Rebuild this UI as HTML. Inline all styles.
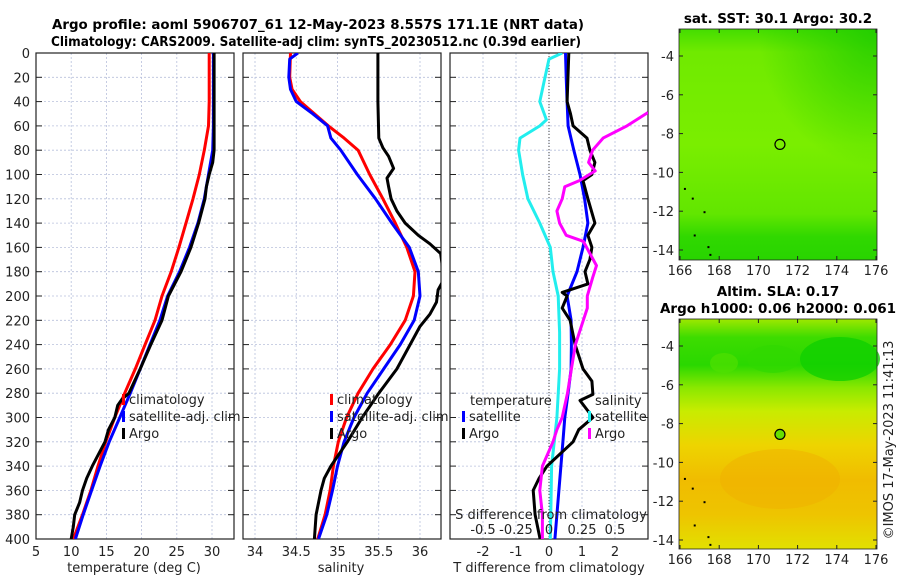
<!DOCTYPE html>
<html><head><meta charset="utf-8">
<style>
html,body{margin:0;padding:0;background:#fff;}
svg{display:block;font-family:"DejaVu Sans","Liberation Sans",sans-serif;}
</style></head>
<body>
<svg id="fig" width="900" height="580" viewBox="0 0 900 580" xmlns="http://www.w3.org/2000/svg">
<defs>
<linearGradient id="sla" x1="0" y1="0" x2="0" y2="1">
<stop offset="0" stop-color="#9ee800"/>
<stop offset="0.08" stop-color="#3ddc00"/>
<stop offset="0.2" stop-color="#2ad800"/>
<stop offset="0.3" stop-color="#8be800"/>
<stop offset="0.4" stop-color="#c8ec00"/>
<stop offset="0.55" stop-color="#eed400"/>
<stop offset="0.7" stop-color="#f0bc00"/>
<stop offset="0.85" stop-color="#eec400"/>
<stop offset="1" stop-color="#e2e000"/>
</linearGradient>
<linearGradient id="sst" x1="0" y1="0" x2="0" y2="1">
<stop offset="0" stop-color="#44dd00"/>
<stop offset="0.1" stop-color="#70ea00"/>
<stop offset="0.5" stop-color="#7aee00"/>
<stop offset="0.8" stop-color="#62e600"/>
<stop offset="0.9" stop-color="#30d800"/>
<stop offset="1" stop-color="#28d400"/>
</linearGradient>
<radialGradient id="trdark" cx="1" cy="0" r="0.6">
<stop offset="0" stop-color="#20cc00" stop-opacity="0.9"/>
<stop offset="1" stop-color="#20cc00" stop-opacity="0"/>
</radialGradient>
</defs>
<g id="root"></g>
</svg>
<script>
// ---------- data ----------
const depthTicks = [0,20,40,60,80,100,120,140,160,180,200,220,240,260,280,300,320,340,360,380,400];
const tempTicks = [5,10,15,20,25,30];
const salTicks = [34,34.5,35,35.5,36];
const tdiffTicks = [-2,-1,0,1,2];
const sdiffTicks = [-0.5,-0.25,0,0.25,0.5];
const lonTicks = [166,168,170,172,174,176];
const latTicks = [-4,-6,-8,-10,-12,-14];

const tClimDepth = [0,20,40,60,80,100,120,140,160,180,200,220,240,260,280,300,320,340,360,380,400];
const tClim      = [29.6,29.6,29.6,29.5,28.9,28.2,27.3,26.3,25.3,24.2,22.9,21.9,20.5,19.1,17.6,16.2,14.9,13.8,12.8,11.6,10.3];
const tSatDepth  = [0,20,40,60,80,100,120,140,160,180,200,220,240,260,280,300,320,340,360,380,400];
const tSat       = [30.2,30.2,30.2,30.2,30.1,29.5,28.9,28.0,26.8,25.4,23.7,22.6,21.2,19.8,18.4,16.9,15.4,14.1,12.9,11.7,10.6];
const tArgoDepth = [0,20,40,60,80,90,100,110,120,140,160,180,200,220,240,260,280,285,290,300,310,320,340,350,360,370,380,390,400];
const tArgo      = [30.3,30.3,30.3,30.3,30.3,30.1,29.6,29.2,29.0,28.1,27.0,25.6,23.8,22.9,21.3,19.8,18.2,17.2,16.6,16.2,15.3,14.8,13.0,12.2,11.6,11.2,10.5,10.3,10.0];

const sClimDepth = [0,20,30,40,50,60,70,80,100,120,140,160,180,200,220,240,260,280,300,320,340,360,380,400];
const sClim      = [34.43,34.42,34.45,34.55,34.72,34.89,35.08,35.25,35.39,35.55,35.70,35.84,35.94,35.92,35.82,35.64,35.43,35.25,35.11,35.01,34.95,34.91,34.85,34.76];
const sSatDepth  = [0,5,20,30,40,50,60,70,80,100,120,140,160,180,200,220,240,260,280,300,320,340,360,380,400];
const sSat       = [34.52,34.42,34.41,34.43,34.50,34.70,34.88,34.92,35.04,35.24,35.46,35.66,35.87,35.98,36.00,35.93,35.76,35.56,35.36,35.20,35.08,35.00,34.94,34.87,34.77];
const sArgoDepth = [0,40,70,78,85,95,103,110,120,130,140,150,157,165,175,185,195,205,215,225,240,260,280,300,320,330,340,350,360,380,400];
const sArgo      = [35.49,35.49,35.50,35.55,35.62,35.68,35.60,35.62,35.65,35.72,35.82,35.98,36.12,36.25,36.27,36.30,36.22,36.20,36.12,36.00,35.88,35.72,35.50,35.30,35.12,35.02,34.92,34.84,34.80,34.74,34.72];

const dTSatDepth = [0,20,40,60,80,100,120,140,160,180,200,220,240,260,280,300,320,340,360,380,400];
const dTSat      = [0.50,0.52,0.55,0.58,0.75,0.94,1.08,1.18,1.03,0.85,0.55,0.67,0.68,0.67,0.58,0.48,0.42,0.36,0.30,0.24,0.18];
const dSSatDepth = [0,5,20,40,55,60,70,80,100,120,140,160,180,200,230,260,300,340,370,400];
const dSSat      = [0.10,0.00,-0.03,-0.07,-0.02,-0.07,-0.22,-0.23,-0.20,-0.16,-0.07,0.01,0.03,0.07,0.08,0.08,0.06,0.02,0.015,0.01];
const dTArgoDepth= [0,40,50,60,70,80,90,100,105,120,140,150,160,170,180,190,197,200,210,220,240,260,270,281,286,300,310,320,340,350,360,380,400];
const dTArgo     = [0.60,0.55,0.65,0.73,1.15,1.24,1.39,1.30,1.03,1.18,1.39,1.18,1.30,1.24,1.09,1.18,0.40,0.55,0.40,0.64,0.79,1.03,1.30,1.33,0.94,1.33,0.90,0.73,-0.06,-0.30,-0.48,-0.42,-0.27];
const dSArgoDepth= [49,60,70,80,90,97,105,110,120,130,140,150,155,165,175,185,200,210,220,240,260,280,300,310,320,340,360,380,400];
const dSArgo     = [0.75,0.59,0.41,0.33,0.30,0.35,0.23,0.12,0.10,0.06,0.08,0.13,0.26,0.31,0.36,0.33,0.29,0.29,0.26,0.20,0.17,0.14,0.10,0.06,0.03,-0.05,-0.07,-0.05,-0.05];

// ---------- helpers ----------
const NS="http://www.w3.org/2000/svg";
const root=document.getElementById('root');
function mk(tag,attrs,parent,txt){const e=document.createElementNS(NS,tag);for(const k in attrs)e.setAttribute(k,attrs[k]);if(txt!==undefined)e.textContent=txt;(parent||root).appendChild(e);return e;}
const Y0=53,Y1=539;
function yD(d){return Y0+(d/400)*(Y1-Y0);}
function lin(d0,d1,p0,p1){return v=>p0+(v-d0)/(d1-d0)*(p1-p0);}
const xT=lin(5,30,36,212);
const xS=lin(34,36,255,420);
const xDT=lin(0,2,549,615);
const xDS=lin(0,0.5,549,615);

function panel(name,x0,x1,xTicks,xf,gridX){
  const g=mk('g',{},root);
  
  
  const cp=mk('clipPath',{id:'cp-'+name},g);
  mk('rect',{x:x0,y:Y0,width:x1-x0,height:Y1-Y0},cp);
  for(const d of depthTicks){
    if(d>0&&d<400) mk('line',{x1:x0,x2:x1,y1:yD(d),y2:yD(d),stroke:'#b8c0dc','stroke-width':0.8,'stroke-dasharray':'2,2'},g);
    mk('line',{x1:x0,x2:x0+6,y1:yD(d),y2:yD(d),stroke:'#222','stroke-width':1},g);
    mk('line',{x1:x1-6,x2:x1,y1:yD(d),y2:yD(d),stroke:'#222','stroke-width':1},g);
  }
  if(gridX) for(const t of xTicks){const x=xf(t); if(x>x0+1&&x<x1-1) mk('line',{x1:x,x2:x,y1:Y0,y2:Y1,stroke:'#b8c0dc','stroke-width':0.8,'stroke-dasharray':'2,2'},g);}
  mk('rect',{x:x0,y:Y0,width:x1-x0,height:Y1-Y0,fill:'none',stroke:'#222','stroke-width':1.2},g);
  return g;
}
function series(g,name,clip,depths,vals,xf,color,w){
  const pts=depths.map((d,i)=>xf(vals[i]).toFixed(1)+','+yD(d).toFixed(1)).join(' ');
  const p=mk('polyline',{points:pts,fill:'none',stroke:color,'stroke-width':w||3,'stroke-linejoin':'round','clip-path':'url(#cp-'+clip+')'},g);
  
  
}
function txt(s,x,y,opt,parent){const o=Object.assign({x:x,y:y,'font-size':13,fill:'#222'},opt||{});return mk('text',o,parent,s);}
function legend(g,x,y,items){
  items.forEach((it,i)=>{
    const yy=y+i*17;
    mk('rect',{x:x,y:yy-10,width:3,height:11,fill:it[1]},g);
    const t=txt(it[0],x+7,yy,{'font-size':13},g);
    
    
  });
}

// title
const tg=mk('g',{},root);


txt('Argo profile: aoml 5906707_61 12-May-2023 8.557S 171.1E (NRT data)',318,29,{'font-weight':'bold','text-anchor':'middle','font-size':13.5,fill:'#000',textLength:532,lengthAdjust:'spacingAndGlyphs'},tg);
txt('Climatology: CARS2009. Satellite-adj clim: synTS_20230512.nc (0.39d earlier)',316,46,{'font-weight':'bold','text-anchor':'middle','font-size':13.5,fill:'#000',textLength:530,lengthAdjust:'spacingAndGlyphs'},tg);

// depth labels
const yl=mk('g',{},root);


for(const d of depthTicks) txt(String(d),30,yD(d)+5,{'text-anchor':'end'},yl);

// panel 1
const p1=panel('temperature-panel',36,234,tempTicks,xT,true);
series(p1,'temp-climatology','temperature-panel',tClimDepth,tClim,xT,'#ff0000');
series(p1,'temp-satellite-adj','temperature-panel',tSatDepth,tSat,xT,'#0000ff');
series(p1,'temp-argo','temperature-panel',tArgoDepth,tArgo,xT,'#000000');
for(const t of tempTicks) txt(String(t),xT(t),556,{'text-anchor':'middle'},p1);
txt('temperature (deg C)',134,572,{'text-anchor':'middle'},p1);
legend(p1,122,404,[['climatology','#ff0000'],['satellite-adj. clim','#0000ff'],['Argo','#000']]);

// panel 2
const p2=panel('salinity-panel',243,441,salTicks,xS,true);
series(p2,'sal-climatology','salinity-panel',sClimDepth,sClim,xS,'#ff0000');
series(p2,'sal-satellite-adj','salinity-panel',sSatDepth,sSat,xS,'#0000ff');
series(p2,'sal-argo','salinity-panel',sArgoDepth,sArgo,xS,'#000000');
for(const t of salTicks) txt(String(t),xS(t),556,{'text-anchor':'middle'},p2);
txt('salinity',341,572,{'text-anchor':'middle'},p2);
legend(p2,330,404,[['climatology','#ff0000'],['satellite-adj. clim','#0000ff'],['Argo','#000']]);

// panel 3
const p3=panel('difference-panel',450,648,tdiffTicks,xDT,true);
mk('line',{x1:549,x2:549,y1:Y0,y2:Y1,stroke:'#444','stroke-width':1,'stroke-dasharray':'1,2'},p3);
series(p3,'sal-diff-satellite','difference-panel',dSSatDepth,dSSat,xDS,'#22eeee');
series(p3,'temp-diff-satellite','difference-panel',dTSatDepth,dTSat,xDT,'#0000ff');
series(p3,'temp-diff-argo','difference-panel',dTArgoDepth,dTArgo,xDT,'#000000');
series(p3,'sal-diff-argo','difference-panel',dSArgoDepth,dSArgo,xDS,'#ff00ff');
for(const t of tdiffTicks) txt(String(t),xDT(t),556,{'text-anchor':'middle'},p3);
txt('T difference from climatology',549,572,{'text-anchor':'middle'},p3);
txt('S difference from climatology',551,519,{'text-anchor':'middle'},p3);
for(const t of sdiffTicks) txt(String(t),xDS(t),534,{'text-anchor':'middle'},p3);
txt('temperature',470,405,{},p3);
legend(p3,462,421,[['satellite','#0000ff'],['Argo','#000']]);
txt('salinity',595,405,{},p3);
legend(p3,588,421,[['satellite','#22eeee'],['Argo','#ff00ff']]);

// maps
function map(name,y0,y1,latAt4,latAt14,fillId,title,titleY,circleFill){
  const g=mk('g',{},root);
  
  
  const x0=679,x1=877;
  const xl=lin(166,176,680,876), yl=lin(-4,-14,latAt4,latAt14);
  mk('rect',{x:x0,y:y0,width:x1-x0,height:y1-y0,fill:'url(#'+fillId+')'},g);
  if(fillId==='sst'){
    mk('rect',{x:x0,y:y0,width:x1-x0,height:y1-y0,fill:'url(#trdark)'},g);
  } else {
    mk('ellipse',{cx:724,cy:y0+44,rx:14,ry:10,fill:'#50e000',opacity:0.7},g);
    mk('ellipse',{cx:773,cy:y0+40,rx:26,ry:14,fill:'#30d800',opacity:0.7},g);
    mk('ellipse',{cx:840,cy:y0+40,rx:40,ry:22,fill:'#10d000',opacity:0.8},g);
    mk('ellipse',{cx:780,cy:y0+160,rx:60,ry:30,fill:'#f0b000',opacity:0.5},g);
  }
  [[167.2,-12.0],[166.6,-11.3],[166.2,-10.8],[167.4,-13.8],[167.5,-14.2],[166.7,-13.2]].forEach(p=>mk('rect',{x:xl(p[0]),y:yl(p[1]),width:2,height:2,fill:'#000'},g));
  mk('rect',{x:x0,y:y0,width:x1-x0,height:y1-y0,fill:'none',stroke:'#222','stroke-width':0.8},g);
  for(const t of lonTicks){
    mk('line',{x1:xl(t),x2:xl(t),y1:y1,y2:y1-4,stroke:'#222'},g);
    mk('line',{x1:xl(t),x2:xl(t),y1:y0,y2:y0+4,stroke:'#222'},g);
    txt(String(t),xl(t),y1+15,{'text-anchor':'middle'},g);
  }
  for(const t of latTicks){
    mk('line',{x1:x0,x2:x0+4,y1:yl(t),y2:yl(t),stroke:'#222'},g);
    mk('line',{x1:x1,x2:x1-4,y1:yl(t),y2:yl(t),stroke:'#222'},g);
    txt(String(t),674,yl(t)+5,{'text-anchor':'end'},g);
  }
  const c=mk('circle',{cx:xl(171.1),cy:yl(-8.557),r:5,fill:circleFill,stroke:'#000','stroke-width':1.2},g);
  
  
  title.forEach((s,i)=>txt(s,778,titleY+i*17,{'font-weight':'bold','text-anchor':'middle','font-size':13.5,fill:'#000'},g));
}
map('sst-map',29,260,56,250,'sst',['sat. SST: 30.1 Argo: 30.2'],23,'none');
map('sla-map',319,549,346,540,'sla',['Altim. SLA: 0.17','Argo h1000: 0.06 h2000: 0.061'],296,'#66e000');

const cr=txt('©IMOS 17-May-2023 11:41:13',0,0,{'text-anchor':'middle',transform:'translate(893,440) rotate(-90)','font-size':13});


</script>
</body></html>
